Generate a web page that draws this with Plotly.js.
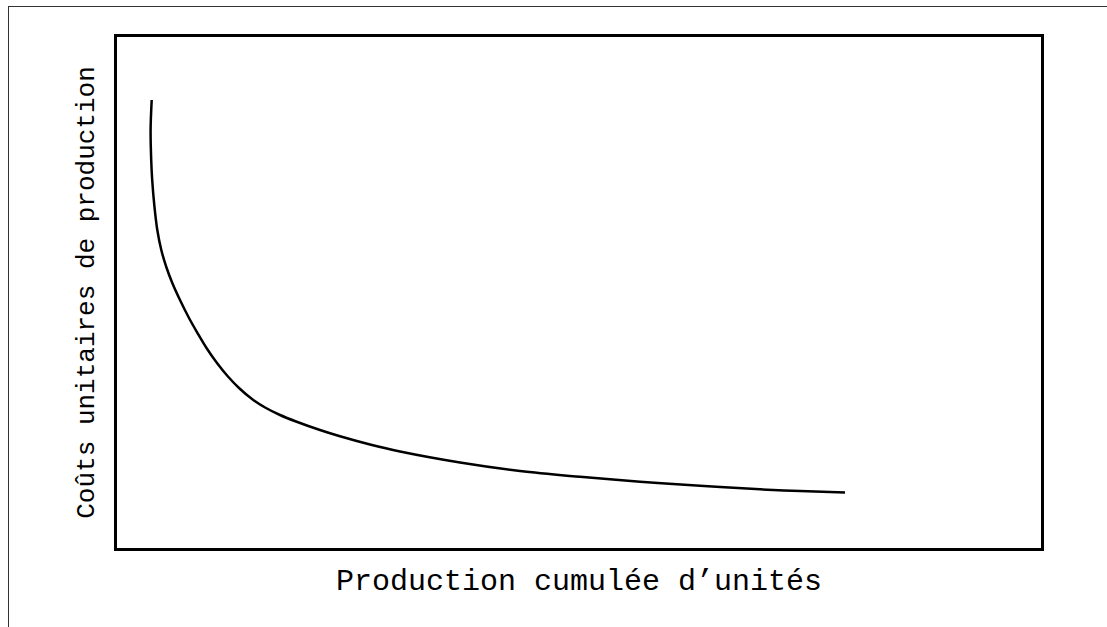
<!DOCTYPE html>
<html>
<head>
<meta charset="utf-8">
<script src="https://cdn.plot.ly/plotly-3.0.1.min.js"></script>
<style>
  html, body { margin: 0; padding: 0; background: #fff; }
  #wrap { position: relative; width: 1107px; height: 627px; overflow: hidden; }
  #frame { position: absolute; left: 8px; top: 6px; width: 1200px; height: 700px;
           border-left: 1.5px solid #333; border-top: 1.5px solid #333; pointer-events: none; }
  #chart { position: absolute; left: 0; top: 0; width: 1107px; height: 627px; }
</style>
</head>
<body>
<div id="wrap">
  <div id="chart"></div>
  <div id="frame"></div>
</div>
<script>
// Cumulative production (arbitrary units, axis 0–100)
const production = [3.755, 3.636, 3.701, 3.810, 4.037, 4.361, 4.794, 5.335, 5.985, 6.818, 7.792, 8.712, 9.686, 10.823, 11.959, 13.203, 14.610, 16.126, 17.641, 19.372, 21.970, 24.134, 27.381, 30.628, 37.121, 43.615, 50.108, 56.602, 63.095, 69.589, 73.918, 78.788];
// Unit production cost (arbitrary units, axis 0–100)
const unitCost   = [87.67, 81.80, 75.93, 72.02, 67.12, 62.23, 58.32, 54.99, 51.86, 48.53, 45.01, 42.07, 39.14, 36.20, 33.66, 31.31, 29.16, 27.40, 26.03, 24.76, 23.09, 21.86, 20.25, 18.88, 16.73, 15.07, 13.93, 12.96, 12.17, 11.49, 11.15, 10.84];

const xTitle = "Production cumulée d’unités";
const yTitle = "Coûts unitaires de production";

const trace = {
  x: production,
  y: unitCost,
  type: 'scatter',
  mode: 'lines',
  line: { color: '#000', width: 2.5, shape: 'spline', smoothing: 1 },
  hoverinfo: 'skip'
};

const axisCommon = {
  range: [0, 100],
  showgrid: false,
  zeroline: false,
  showticklabels: false,
  ticks: '',
  showline: true,
  mirror: true,
  linecolor: '#000',
  linewidth: 3,
  fixedrange: true
};

const layout = {
  width: 1107,
  height: 627,
  margin: { l: 117, r: 66, t: 37, b: 79 },
  paper_bgcolor: 'rgba(0,0,0,0)',
  plot_bgcolor: '#fff',
  showlegend: false,
  font: { family: '"Liberation Mono", "Courier New", monospace', color: '#000' },
  xaxis: Object.assign({}, axisCommon, {
    title: { text: xTitle, font: { size: 30, family: '"Liberation Mono", monospace', color: '#000' }, standoff: 19 }
  }),
  yaxis: Object.assign({}, axisCommon, {
    title: { text: yTitle, font: { size: 26, family: '"Liberation Mono", monospace', color: '#000' }, standoff: 12 }
  })
};

Plotly.newPlot('chart', [trace], layout, { displayModeBar: false, staticPlot: true });
</script>
</body>
</html>
